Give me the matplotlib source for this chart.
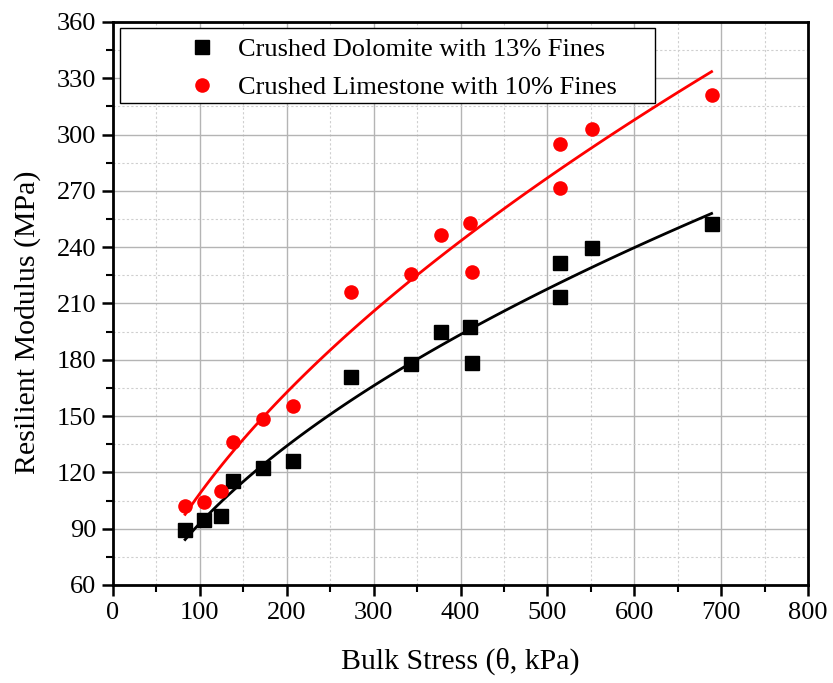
import numpy as np
import matplotlib
matplotlib.use("Agg")
import matplotlib.pyplot as plt
from matplotlib.ticker import MultipleLocator
from matplotlib.patches import Rectangle

plt.rcParams['font.family'] = ['Liberation Serif', 'DejaVu Serif']

# bulk stress (kPa) for each test sequence
stress_dol = [83, 105, 124, 138, 173, 207, 274, 343, 377, 411, 413, 515, 515, 551, 689]
mr_dol = [89.5, 94.5, 97, 115.5, 122.5, 126, 171, 177.5, 195, 197.5, 178.5, 231.5, 213.5, 239.5, 252.5]

stress_lime = [83, 105, 124, 138, 173, 207, 274, 343, 377, 411, 413, 515, 515, 551, 689]
mr_lime = [102, 104, 110, 136, 148.5, 155.5, 216, 225.5, 246.5, 253, 227, 295, 271.5, 303, 321]

label_dol = "Crushed Dolomite with 13% Fines"
label_lime = "Crushed Limestone with 10% Fines"

#power law fit  M = k * theta^n, least squares on M itself (like an allometric fit)
def power_fit(x, y):
    x = np.asarray(x, float)
    y = np.asarray(y, float)
    best = None
    for n in np.linspace(0.2, 1.0, 1601):
        xn = x ** n
        k = np.sum(y * xn) / np.sum(xn * xn)#best k for this exponent
        sse = np.sum((y - k * xn) ** 2)
        if best is None or sse < best[0]:
            best = (sse, k, n)
    xs = np.linspace(x.min(), x.max(), 100)
    return xs, best[1] * xs ** best[2]

fig = plt.figure(figsize=(8.33, 6.83), dpi=100)
ax = fig.add_axes([0.1357, 0.1435, 0.8343, 0.8243])

ax.grid(True, which='major', color='#b4b4b4', linewidth=1.0, zorder=0)
ax.grid(True, which='minor', color='#cfcfcf', linewidth=0.8, linestyle=(0, (2, 2)), zorder=0)
ax.set_axisbelow(True)

xs, ys = power_fit(stress_dol, mr_dol)
ax.plot(xs, ys, color='black', linewidth=2, zorder=2)
xs, ys = power_fit(stress_lime, mr_lime)
ax.plot(xs, ys, color='red', linewidth=2, zorder=2)

ax.plot(stress_dol, mr_dol, 's', color='black', markersize=9.5, label=label_dol, zorder=3)
ax.plot(stress_lime, mr_lime, 'o', color='red', markersize=10.5, markeredgewidth=0, label=label_lime, zorder=3)

ax.set_xlim(0, 800)
ax.set_ylim(60, 360)
ax.xaxis.set_major_locator(MultipleLocator(100))
ax.xaxis.set_minor_locator(MultipleLocator(50))
ax.yaxis.set_major_locator(MultipleLocator(30))
ax.yaxis.set_minor_locator(MultipleLocator(15))

for s in ax.spines.values():
    s.set_linewidth(2)
ax.tick_params(which='major', direction='out', length=8, width=1.8, labelsize=19, pad=4)
ax.tick_params(which='minor', direction='out', length=5, width=1.5)

ax.set_xlabel("Bulk Stress (\u03b8, kPa)", fontsize=21.5, labelpad=17)
ax.set_ylabel("Resilient Modulus (MPa)", fontsize=21.5)
ax.yaxis.set_label_coords(-0.104, 0.467)

# legend box is drawn separately so its padding can match the original
frame = Rectangle((0.010, 0.856), 0.770, 0.133, transform=ax.transAxes, facecolor='white',
                  edgecolor='black', linewidth=1.0, zorder=4)
ax.add_patch(frame)
leg = ax.legend(loc='upper left', bbox_to_anchor=(0.090, 0.972), fontsize=19, frameon=False,
                borderpad=0, borderaxespad=0, handlelength=2.0, handletextpad=0.36,
                labelspacing=0.55)
leg.set_zorder(5)

fig.savefig("out.png", dpi=100)
